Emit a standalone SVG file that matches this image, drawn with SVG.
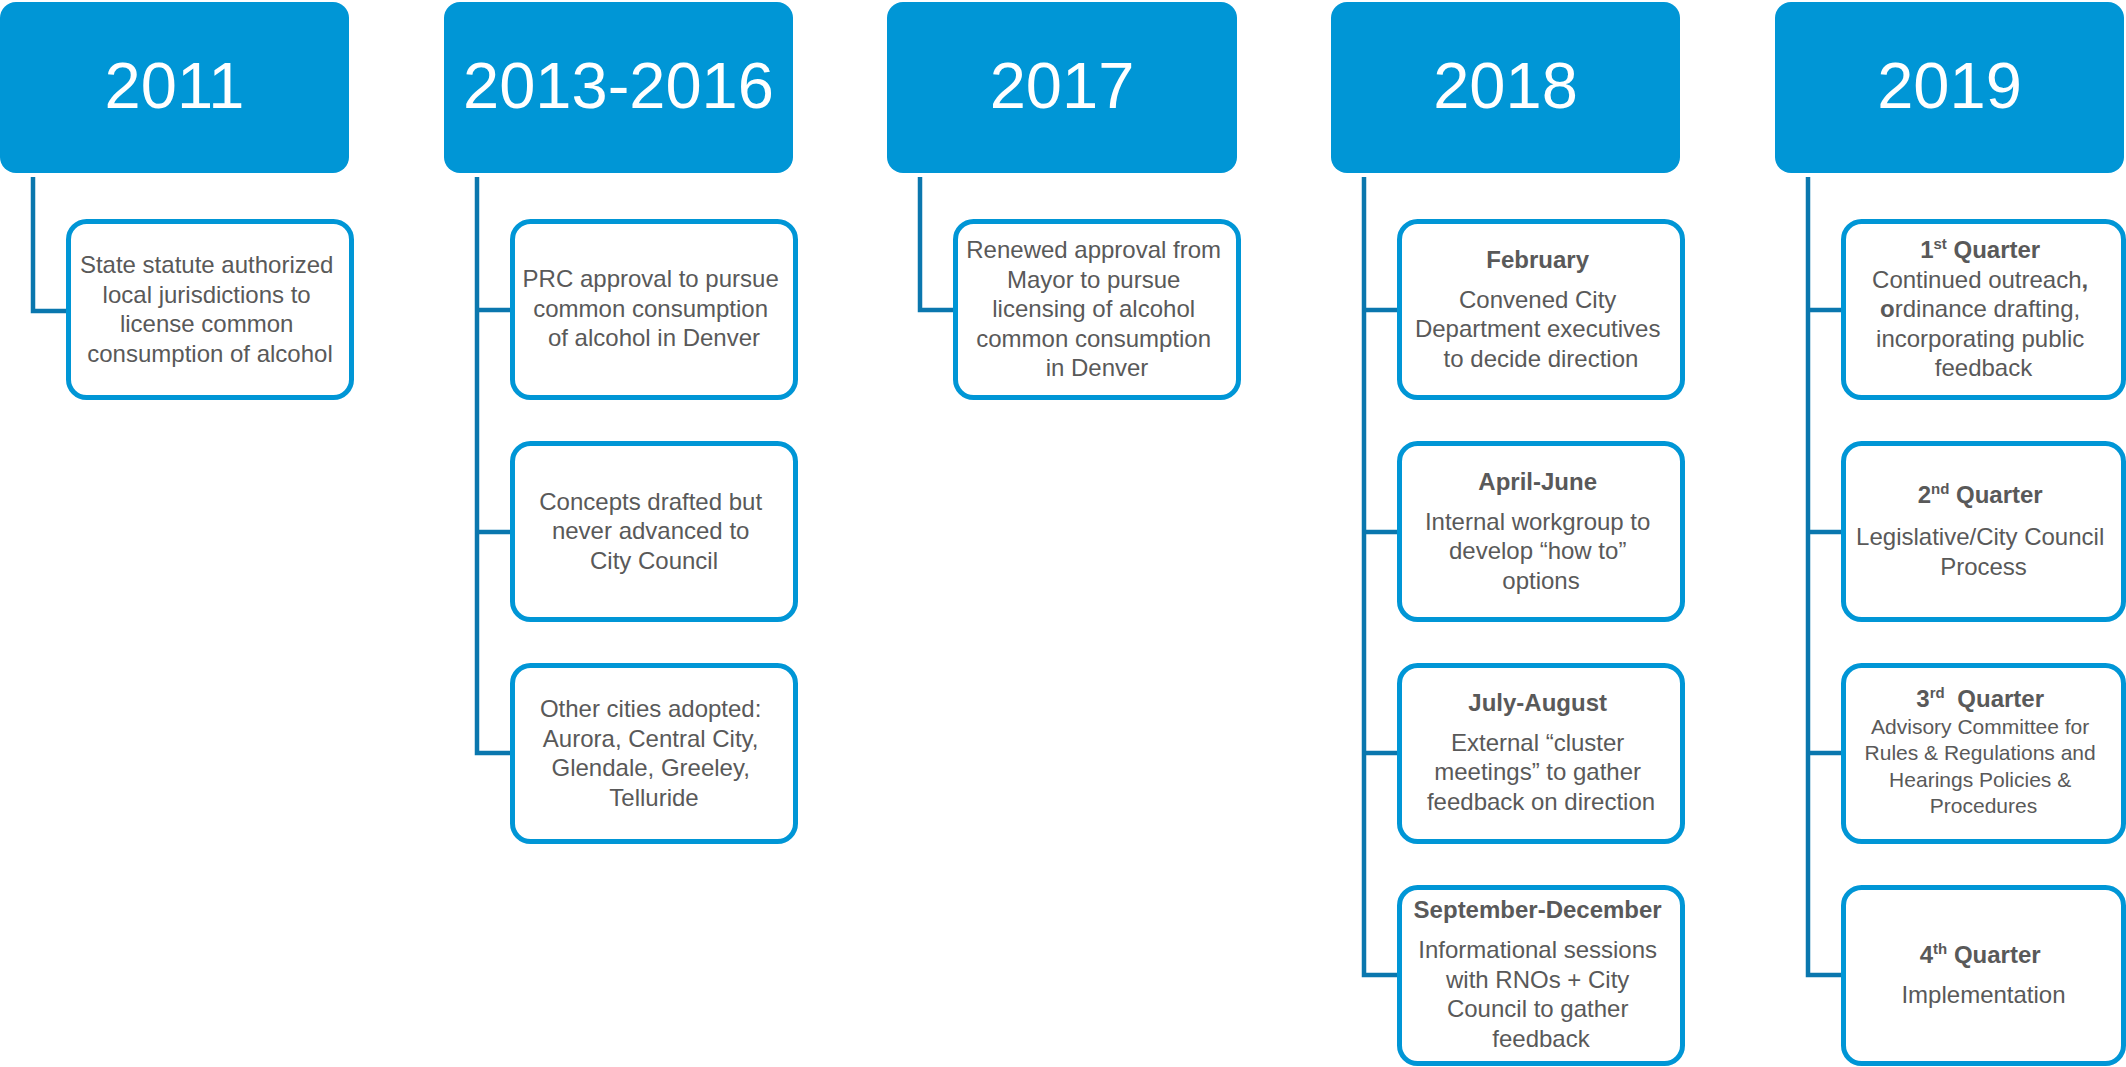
<svg xmlns="http://www.w3.org/2000/svg" width="2126" height="1067" viewBox="0 0 2126 1067">
  <style>
    .hdr { fill: #0096D6; }
    .yr { fill: #FFFFFF; font-family: "Liberation Sans", Arial, sans-serif; font-size: 65px; text-anchor: middle; }
    .box { fill: #FFFFFF; stroke: #0096D6; stroke-width: 5; }
    .txt { fill: #595959; font-family: "Liberation Sans", Arial, sans-serif; font-size: 24px; text-anchor: middle; }
    .sm { font-size: 21px; }
    .b { font-weight: bold; }
    .link { fill: none; stroke: #0A77AE; stroke-width: 4.5; stroke-linejoin: miter; stroke-linecap: butt; }
  </style>
  <rect width="2126" height="1067" fill="#FFFFFF"/>

  <!-- connectors: trunk from each year header, with branches to each event box -->
  <g id="connectors">
    <path class="link" d="M33 177 V311 H68"/>
    <path class="link" d="M477 177 V753 H512 M477 310 H512 M477 532 H512"/>
    <path class="link" d="M920 177 V310 H955"/>
    <path class="link" d="M1364 177 V975 H1399 M1364 310 H1399 M1364 532 H1399 M1364 753 H1399"/>
    <path class="link" d="M1808 177 V975 H1843 M1808 310 H1843 M1808 532 H1843 M1808 753 H1843"/>
  </g>

  <!-- year headers -->
  <g id="year-2011">
    <rect class="hdr" x="0" y="2" width="349" height="171" rx="16"/>
    <text class="yr" x="174.5" y="108">2011</text>
  </g>
  <g id="year-2013-2016">
    <rect class="hdr" x="444" y="2" width="349" height="171" rx="16"/>
    <text class="yr" x="618.5" y="108">2013-2016</text>
  </g>
  <g id="year-2017">
    <rect class="hdr" x="887" y="2" width="350" height="171" rx="16"/>
    <text class="yr" x="1062" y="108">2017</text>
  </g>
  <g id="year-2018">
    <rect class="hdr" x="1331" y="2" width="349" height="171" rx="16"/>
    <text class="yr" x="1505.5" y="108">2018</text>
  </g>
  <g id="year-2019">
    <rect class="hdr" x="1775" y="2" width="349" height="171" rx="16"/>
    <text class="yr" x="1949.5" y="108">2019</text>
  </g>

  <!-- 2011 -->
  <g id="ev-2011-statute">
    <rect class="box" x="68.5" y="221.5" width="283" height="176" rx="18"/>
    <text class="txt" x="210">
      <tspan x="210" y="273">State statute authorized</tspan>
      <tspan x="210" y="302.5">local jurisdictions to</tspan>
      <tspan x="210" y="332">license common</tspan>
      <tspan x="210" y="361.5">consumption of alcohol</tspan>
    </text>
  </g>

  <!-- 2013-2016 -->
  <g id="ev-2013-prc">
    <rect class="box" x="512.5" y="221.5" width="283" height="176" rx="18"/>
    <text class="txt" x="654">
      <tspan x="654" y="287">PRC approval to pursue</tspan>
      <tspan x="654" y="316.5">common consumption</tspan>
      <tspan x="654" y="346">of alcohol in Denver</tspan>
    </text>
  </g>
  <g id="ev-2013-concepts">
    <rect class="box" x="512.5" y="443.5" width="283" height="176" rx="18"/>
    <text class="txt" x="654">
      <tspan x="654" y="509.5">Concepts drafted but</tspan>
      <tspan x="654" y="539">never advanced to</tspan>
      <tspan x="654" y="568.5">City Council</tspan>
    </text>
  </g>
  <g id="ev-2013-cities">
    <rect class="box" x="512.5" y="665.5" width="283" height="176" rx="18"/>
    <text class="txt" x="654">
      <tspan x="654" y="717">Other cities adopted:</tspan>
      <tspan x="654" y="746.5">Aurora, Central City,</tspan>
      <tspan x="654" y="776">Glendale, Greeley,</tspan>
      <tspan x="654" y="805.5">Telluride</tspan>
    </text>
  </g>

  <!-- 2017 -->
  <g id="ev-2017-renewed">
    <rect class="box" x="955.5" y="221.5" width="283" height="176" rx="18"/>
    <text class="txt" x="1097">
      <tspan x="1097" y="258">Renewed approval from</tspan>
      <tspan x="1097" y="287.5">Mayor to pursue</tspan>
      <tspan x="1097" y="317">licensing of alcohol</tspan>
      <tspan x="1097" y="346.5">common consumption</tspan>
      <tspan x="1097" y="376">in Denver</tspan>
    </text>
  </g>

  <!-- 2018 -->
  <g id="ev-2018-feb">
    <rect class="box" x="1399.5" y="221.5" width="283" height="176" rx="18"/>
    <text class="txt" x="1541">
      <tspan class="b" x="1541" y="268">February</tspan>
      <tspan x="1541" y="307.5">Convened City</tspan>
      <tspan x="1541" y="337">Department executives</tspan>
      <tspan x="1541" y="366.5">to decide direction</tspan>
    </text>
  </g>
  <g id="ev-2018-apr">
    <rect class="box" x="1399.5" y="443.5" width="283" height="176" rx="18"/>
    <text class="txt" x="1541">
      <tspan class="b" x="1541" y="490">April-June</tspan>
      <tspan x="1541" y="529.5">Internal workgroup to</tspan>
      <tspan x="1541" y="559">develop “how to”</tspan>
      <tspan x="1541" y="588.5">options</tspan>
    </text>
  </g>
  <g id="ev-2018-jul">
    <rect class="box" x="1399.5" y="665.5" width="283" height="176" rx="18"/>
    <text class="txt" x="1541">
      <tspan class="b" x="1541" y="711">July-August</tspan>
      <tspan x="1541" y="750.5">External “cluster</tspan>
      <tspan x="1541" y="780">meetings” to gather</tspan>
      <tspan x="1541" y="809.5">feedback on direction</tspan>
    </text>
  </g>
  <g id="ev-2018-sep">
    <rect class="box" x="1399.5" y="887.5" width="283" height="176" rx="18"/>
    <text class="txt" x="1541">
      <tspan class="b" x="1541" y="918">September-December</tspan>
      <tspan x="1541" y="958">Informational sessions</tspan>
      <tspan x="1541" y="987.5">with RNOs + City</tspan>
      <tspan x="1541" y="1017">Council to gather</tspan>
      <tspan x="1541" y="1046.5">feedback</tspan>
    </text>
  </g>

  <!-- 2019 -->
  <g id="ev-2019-q1">
    <rect class="box" x="1843.5" y="221.5" width="280" height="176" rx="18"/>
    <text class="txt" x="1983.5">
      <tspan class="b" x="1983.5" y="258">1<tspan font-size="15" dy="-9">st</tspan><tspan dy="9"> Quarter</tspan></tspan>
      <tspan x="1983.5" y="287.5">Continued outreach<tspan class="b">,</tspan></tspan>
      <tspan x="1983.5" y="317"><tspan class="b">o</tspan>rdinance drafting,</tspan>
      <tspan x="1983.5" y="346.5">incorporating public</tspan>
      <tspan x="1983.5" y="376">feedback</tspan>
    </text>
  </g>
  <g id="ev-2019-q2">
    <rect class="box" x="1843.5" y="443.5" width="280" height="176" rx="18"/>
    <text class="txt" x="1983.5">
      <tspan class="b" x="1983.5" y="503">2<tspan font-size="15" dy="-9">nd</tspan><tspan dy="9"> Quarter</tspan></tspan>
      <tspan x="1983.5" y="545">Legislative/City Council</tspan>
      <tspan x="1983.5" y="574.5">Process</tspan>
    </text>
  </g>
  <g id="ev-2019-q3">
    <rect class="box" x="1843.5" y="665.5" width="280" height="176" rx="18"/>
    <text class="txt" x="1983.5">
      <tspan class="b" x="1983.5" y="707">3<tspan font-size="15" dy="-9">rd</tspan><tspan dx="6" dy="9"> Quarter</tspan></tspan>
      <tspan class="sm" x="1983.5" y="733.5">Advisory Committee for</tspan>
      <tspan class="sm" x="1983.5" y="760">Rules &amp; Regulations and</tspan>
      <tspan class="sm" x="1983.5" y="786.5">Hearings Policies &amp;</tspan>
      <tspan class="sm" x="1983.5" y="813">Procedures</tspan>
    </text>
  </g>
  <g id="ev-2019-q4">
    <rect class="box" x="1843.5" y="887.5" width="280" height="176" rx="18"/>
    <text class="txt" x="1983.5">
      <tspan class="b" x="1983.5" y="963">4<tspan font-size="15" dy="-9">th</tspan><tspan dy="9"> Quarter</tspan></tspan>
      <tspan x="1983.5" y="1003">Implementation</tspan>
    </text>
  </g>
</svg>
